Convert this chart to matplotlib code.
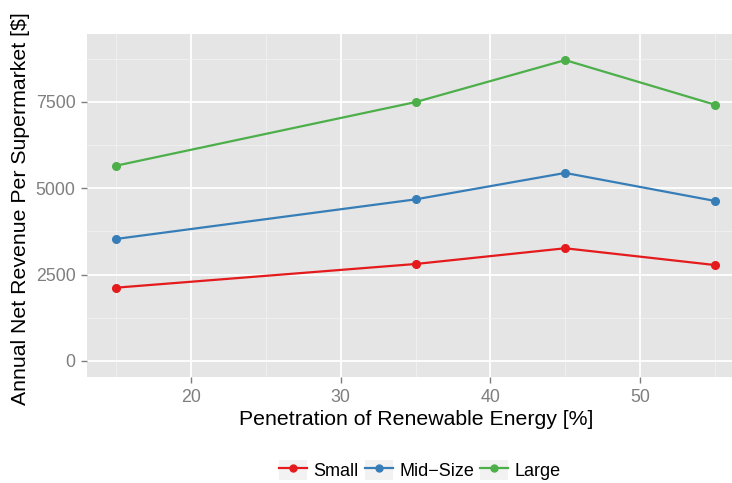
import matplotlib
matplotlib.use("Agg")
import matplotlib.pyplot as plt
from matplotlib.lines import Line2D
from matplotlib.patches import Rectangle
from matplotlib.legend_handler import HandlerLine2D

plt.rcParams['font.family'] = ['Liberation Sans', 'DejaVu Sans']

penetration = [15, 35, 45, 55]
series_names = ["Small", "Mid\u2212Size", "Large"]
small = [2120, 2805, 3260, 2775]
mid_size = [3530, 4675, 5440, 4630]
large = [5650, 7490, 8705, 7415]
series_values = [small, mid_size, large]
colors = ["#E41A1C", "#377EB8", "#4DAF4A"]
x_ticks = [20, 30, 40, 50]
y_ticks = [0, 2500, 5000, 7500]

W, H = 732, 483
fig = plt.figure(figsize=(W / 100, H / 100), dpi=100)
left_px, right_px, top_px, bottom_px = 86.7, 744.8, 34, 377
ax = fig.add_axes([left_px / W, 1 - bottom_px / H,
                   (right_px - left_px) / W, (bottom_px - top_px) / H])
ax.set_facecolor("#E5E5E5")
for s in ax.spines.values():
    s.set_visible(False)

ax.set_xlim(13.03, 57.0)
ax.set_ylim(-465, 9460)
ax.set_xticks(x_ticks)
ax.set_yticks(y_ticks)
ax.set_xticks([15, 25, 35, 45, 55], minor=True)
ax.set_yticks([1250, 3750, 6250, 8750], minor=True)
ax.grid(which="major", color="white", linewidth=1.3)
ax.grid(which="minor", color="#F2F2F2", linewidth=0.6)
ax.set_axisbelow(True)
ax.tick_params(which="major", colors="#7F7F7F", labelsize=12.8, length=4, width=1.0)
ax.tick_params(axis="x", which="major", pad=5)
ax.tick_params(axis="y", which="major", pad=4)
ax.tick_params(which="minor", length=0)

for name, vals, c in zip(series_names, series_values, colors):
    ax.plot(penetration, vals, color=c, linewidth=1.6, marker="o", markersize=5.5,
            label=name, solid_capstyle="round")

ax.set_xlabel("Penetration of Renewable Energy [%]", fontsize=15.3, color="black")
ax.set_ylabel("Annual Net Revenue Per Supermarket [$]", fontsize=15.3, color="black")
ax.xaxis.set_label_coords(0.5, -0.097)
ax.yaxis.set_label_coords(-0.0862, 0.49)


class HandlerBG(HandlerLine2D):
    def create_artists(self, legend, orig_handle, xdescent, ydescent, width, height,
                       fontsize, trans):
        arts = super().create_artists(legend, orig_handle, xdescent, ydescent, width,
                                      height, fontsize, trans)
        r = Rectangle((-xdescent, -ydescent), width, height, facecolor="#F2F2F2",
                      edgecolor="none", transform=trans)
        return [r] + list(arts)


handles = [Line2D([], [], color=c, linewidth=1.6, marker="o", markersize=5) for c in colors]
leg = fig.legend(handles, series_names, loc="center", bbox_to_anchor=(420 / W, 1 - 470 / H),
                 ncol=3, frameon=False, fontsize=13, handlelength=1.55, handleheight=1.35,
                 handletextpad=0.35, columnspacing=0.35,
                 handler_map={Line2D: HandlerBG()})

fig.savefig("out.png", dpi=100)
